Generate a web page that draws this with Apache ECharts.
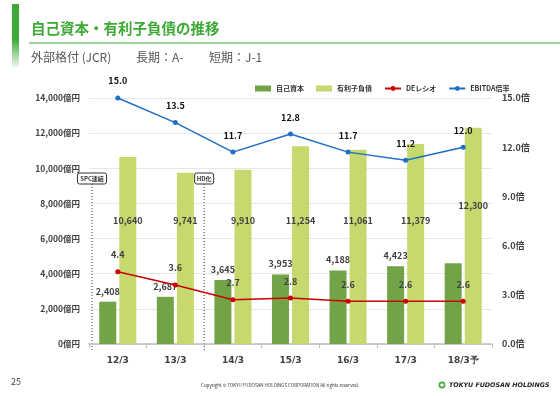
<!DOCTYPE html>
<html>
<head>
<meta charset="utf-8">
<script src="https://cdn.jsdelivr.net/npm/echarts@6/dist/echarts.min.js"></script>
<style>
  body { margin: 0; background: #fff; }
  #chart { width: 560px; height: 396px; }
</style>
</head>
<body>
<div id="chart"></div>
<script>
// データ
var categories = ['12/3', '13/3', '14/3', '15/3', '16/3', '17/3', '18/3予']
var equity = [2408, 2687, 3645, 3953, 4188, 4423, 4600]
var debt = [10640, 9741, 9910, 11254, 11061, 11379, 12300]
var deRatio = [4.4, 3.6, 2.7, 2.8, 2.6, 2.6, 2.6]
var ebitda = [15.0, 13.5, 11.7, 12.8, 11.7, 11.2, 12.0]
var leftTicks = [0, 2000, 4000, 6000, 8000, 10000, 12000, 14000]
var rightTicks = [0, 3, 6, 9, 12, 15]

var font = '"Noto Sans CJK JP", "Noto Sans", sans-serif'
var chart = echarts.init(document.getElementById('chart'))

var option = {
  animation: false,
  textStyle: { fontFamily: font },
  grid: { left: 89, right: 68, top: 98, bottom: 52 },
  legend: {
    top: 80,
    left: 250,
    itemWidth: 16,
    itemHeight: 6,
    itemGap: 12,
    textStyle: { fontSize: 7, fontWeight: 'bold', color: '#333' },
    data: [
      { name: '自己資本', icon: 'rect' },
      { name: '有利子負債', icon: 'rect' },
      { name: 'DEレシオ' },
      { name: 'EBITDA倍率' }
    ]
  },
  xAxis: {
    type: 'category',
    data: categories,
    axisLine: { lineStyle: { color: '#bfbfbf', width: 1.5 } },
    axisTick: { show: true, length: 4, lineStyle: { color: '#bfbfbf' } },
    axisLabel: { color: '#404040', fontSize: 9, fontWeight: 'bold', margin: 12, fontFamily: 'Verdana, "DejaVu Sans", sans-serif' }
  },
  yAxis: [
    {
      type: 'value',
      min: 0,
      max: 14000,
      interval: 2000,
      axisLine: { show: false },
      axisTick: { show: false },
      splitLine: { lineStyle: { color: '#e6e6e6' } },
      axisLabel: {
        color: '#404040', fontSize: 8.5, fontWeight: 'bold', margin: 9,
        formatter: function(v) { return leftTicks.indexOf(v) >= 0 ? v.toLocaleString('en-US') + '億円' : '' }
      }
    },
    {
      type: 'value',
      min: 0,
      max: 15,
      interval: 3,
      axisLine: { show: false },
      axisTick: { show: false },
      splitLine: { show: false },
      axisLabel: {
        color: '#404040', fontSize: 9, fontWeight: 'bold', margin: 10,
        formatter: function(v) { return rightTicks.indexOf(v) >= 0 ? v.toFixed(1) + '倍' : '' }
      }
    }
  ],
  series: [
    {
      name: '自己資本',
      type: 'bar',
      barWidth: 17,
      barGap: '18%',
      itemStyle: { color: '#72A447' },
      label: {
        show: true, position: 'top', distance: 6,
        color: '#404040', fontSize: 9, fontWeight: 'bold',
        formatter: function(p) { return p.value.toLocaleString('en-US') }
      },
      data: equity.map(function(v, i) {
        // 18/3予 のラベルは無し
        return i === equity.length - 1 ? { value: v, label: { show: false } } : v
      })
    },
    {
      name: '有利子負債',
      type: 'bar',
      barWidth: 17,
      itemStyle: { color: '#C5D96E' },
      label: {
        show: true, position: 'insideBottom', distance: 119,
        color: '#404040', fontSize: 9, fontWeight: 'bold',
        formatter: function(p) { return p.value.toLocaleString('en-US') }
      },
      data: debt.map(function(v, i) {
        return i === debt.length - 1 ? { value: v, label: { distance: 134 } } : v
      })
    },
    {
      name: 'DEレシオ',
      type: 'line',
      yAxisIndex: 1,
      symbol: 'circle',
      symbolSize: 5,
      lineStyle: { color: '#CC0000', width: 1.5 },
      itemStyle: { color: '#CC0000' },
      label: {
        show: true, position: 'top', distance: 10,
        color: '#404040', fontSize: 9, fontWeight: 'bold',
        formatter: function(p) { return p.value.toFixed(1) }
      },
      data: deRatio
    },
    {
      name: 'EBITDA倍率',
      type: 'line',
      yAxisIndex: 1,
      symbol: 'circle',
      symbolSize: 5,
      lineStyle: { color: '#1F6FC6', width: 1.5 },
      itemStyle: { color: '#1F6FC6' },
      label: {
        show: true, position: 'top', distance: 10,
        color: '#111', fontSize: 9, fontWeight: 'bold',
        formatter: function(p) { return p.value.toFixed(1) }
      },
      data: ebitda
    }
  ]
}
chart.setOption(option)

// 注記（SPC連結 / HD化）とタイトル周り
var x12 = chart.convertToPixel({ xAxisIndex: 0 }, '12/3')
var x13 = chart.convertToPixel({ xAxisIndex: 0 }, '13/3')
var x14 = chart.convertToPixel({ xAxisIndex: 0 }, '14/3')
var splitX1 = x12 - (x13 - x12) / 2 + 3
var splitX2 = (x13 + x14) / 2
var yTop = 184
var yBottom = chart.convertToPixel({ yAxisIndex: 0 }, 0) + 6

function noteBox(cx, text, w) {
  return [
    {
      type: 'line',
      shape: { x1: cx, y1: yTop, x2: cx, y2: yBottom },
      style: { stroke: '#333', lineWidth: 1, lineDash: [1, 2] }
    },
    {
      type: 'rect',
      shape: { x: cx - w / 2, y: 173, width: w, height: 11, r: 2 },
      style: { fill: '#fff', stroke: '#333', lineWidth: 1 }
    },
    {
      type: 'text',
      x: cx, y: 178.5,
      style: { text: text, fontSize: 6, fontWeight: 'bold', fill: '#333', align: 'center', verticalAlign: 'middle', fontFamily: font }
    }
  ]
}

function subText(x, text) {
  return {
    type: 'text', x: x, y: 51,
    style: { text: text, fontSize: 12, fill: '#555', fontFamily: font }
  }
}

chart.setOption({
  graphic: [
    {
      type: 'rect',
      shape: { x: 12, y: 4, width: 7, height: 64 },
      style: {
        fill: new echarts.graphic.LinearGradient(0, 0, 0, 1, [
          { offset: 0, color: '#3DAA35' },
          { offset: 0.55, color: '#3DAA35' },
          { offset: 1, color: 'rgba(61,170,53,0.05)' }
        ])
      }
    },
    {
      type: 'text', x: 31, y: 21,
      style: { text: '自己資本・有利子負債の推移', fontSize: 14.5, fontWeight: 'bold', fill: '#3DAA35', fontFamily: font }
    },
    {
      type: 'line',
      shape: { x1: 29, y1: 43, x2: 560, y2: 43 },
      style: { stroke: '#3DAA35', lineWidth: 1.2 }
    },
    subText(31, '外部格付 (JCR)'),
    subText(136, '長期：A-'),
    subText(209, '短期：J-1'),
    {
      type: 'text', x: 11, y: 377,
      style: { text: '25', fontSize: 9, fill: '#444', fontFamily: font }
    },
    {
      type: 'text', x: 280, y: 385,
      style: { text: 'Copyright © TOKYU FUDOSAN HOLDINGS CORPORATION All rights reserved.', fontSize: 4.5, fill: '#333', align: 'center', verticalAlign: 'middle', fontFamily: font }
    },
    {
      type: 'circle',
      shape: { cx: 442, cy: 385, r: 2.6 },
      style: { fill: '#fff', stroke: '#3DAA35', lineWidth: 1.6 }
    },
    {
      type: 'text', x: 449, y: 385,
      style: { text: 'TOKYU FUDOSAN HOLDINGS', fontSize: 6.3, fontWeight: 'bold', fontStyle: 'italic', fill: '#222', verticalAlign: 'middle', fontFamily: '"DejaVu Sans", sans-serif' }
    }
  ].concat(noteBox(splitX1, 'SPC連結', 29)).concat(noteBox(splitX2, 'HD化', 19))
})
</script>
</body>
</html>
